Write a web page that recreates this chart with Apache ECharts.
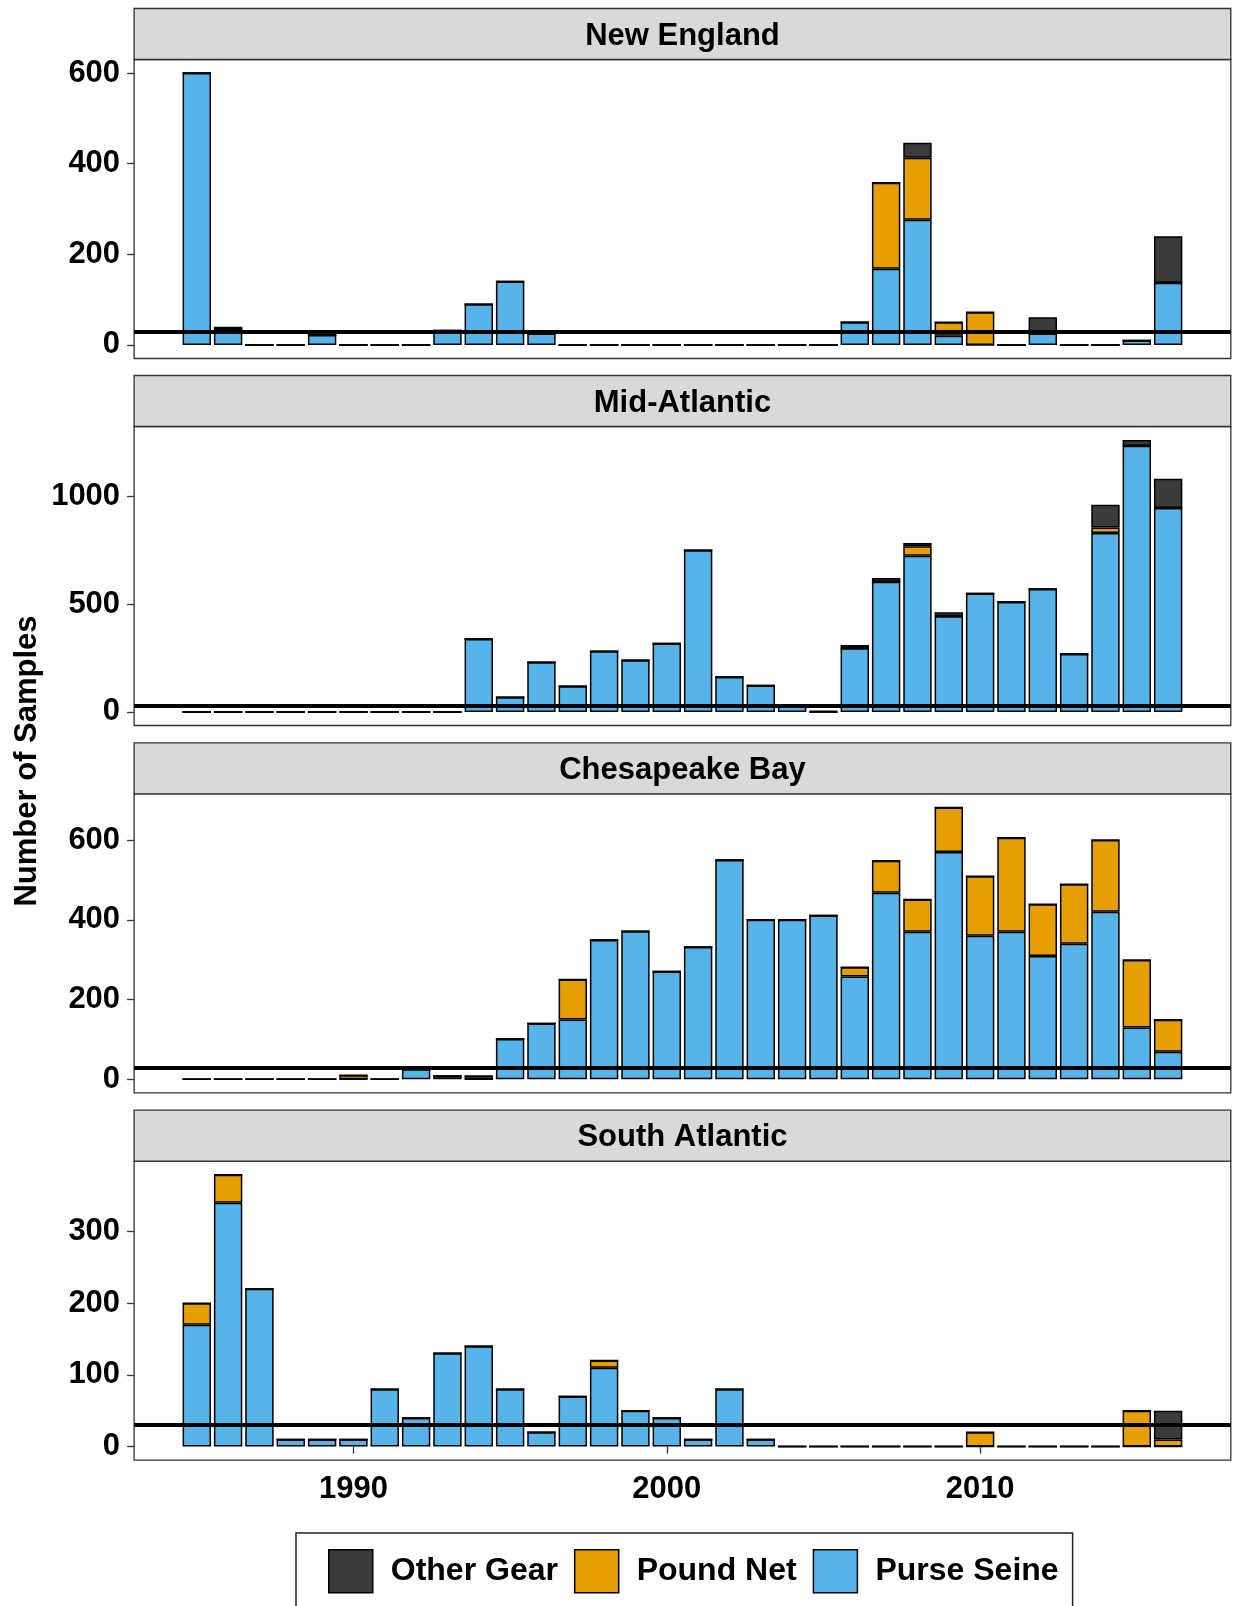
<!DOCTYPE html>
<html><head><meta charset="utf-8">
<script src="https://cdn.jsdelivr.net/npm/echarts@6/dist/echarts.min.js"></script>
<style>html,body{margin:0;padding:0;background:#fff}#c{width:1235px;height:1606px}</style>
</head><body><div id="c"></div><script>
// ---------- data ----------
const years = [1985,1986,1987,1988,1989,1990,1991,1992,1993,1994,1995,1996,1997,1998,1999,2000,
               2001,2002,2003,2004,2005,2006,2007,2008,2009,2010,2011,2012,2013,2014,2015,2016];
// empty padding slots at both ends of the axis (ggplot-style expansion)
const padBefore = [1983,1984];
const padAfter = [2017,2018];
const regionNames = ['New England','Mid-Atlantic','Chesapeake Bay','South Atlantic'];
const gearNames = ['Other Gear','Pound Net','Purse Seine'];

const nePurse = [600,36,0,0,22,0,0,0,32,90,140,25,0,0,0,0,0,0,0,0,0,50,168,276,20,0,0,25,0,0,10,137];
const nePound = [0,0,0,0,0,0,0,0,0,0,0,0,0,0,0,0,0,0,0,0,0,0,190,137,30,72,0,0,0,0,0,0];
const neOther = [0,4,0,0,0,0,0,0,0,0,0,0,0,0,0,0,0,0,0,0,0,0,0,33,0,0,0,36,0,0,0,103];

const maPurse = [0,0,0,0,0,0,0,0,0,338,68,230,119,281,240,317,750,162,122,28,0,295,604,725,444,549,510,570,269,830,1235,946];
const maPound = [0,0,0,0,0,0,0,0,0,0,0,0,0,0,0,0,0,0,0,0,0,0,0,43,0,0,0,0,0,26,0,0];
const maOther = [0,0,0,0,0,0,0,0,0,0,0,0,0,0,0,0,0,0,0,0,5,15,17,16,18,0,0,0,0,105,26,136];

const cbPurse = [0,0,0,0,0,0,0,25,8,0,101,140,150,349,371,270,332,550,400,400,411,258,468,370,570,360,370,309,340,420,130,69];
const cbPound = [0,0,0,0,0,10,0,0,0,8,0,0,100,0,0,0,0,0,0,0,0,23,80,81,112,149,236,130,149,180,169,80];
const cbOther = [0,0,0,0,0,0,0,0,0,0,0,0,0,0,0,0,0,0,0,0,0,0,0,0,0,0,0,0,0,0,0,0];

const saPurse = [170,340,220,10,10,10,80,40,130,140,80,20,70,110,50,40,10,80,10,0,0,0,0,0,0,0,0,0,0,0,0,0];
const saPound = [30,39,0,0,0,0,0,0,0,0,0,0,0,10,0,0,0,0,0,0,0,0,0,0,0,20,0,0,0,0,50,10];
const saOther = [0,0,0,0,0,0,0,0,0,0,0,0,0,0,0,0,0,0,0,0,0,0,0,0,0,0,0,0,0,0,0,40];

const neTicks = [0,200,400,600];
const maTicks = [0,500,1000];
const cbTicks = [0,200,400,600];
const saTicks = [0,100,200,300];
const xTicks = [1990,2000,2010];
const threshold = 30;

// ---------- layout / style ----------
const FONT = '"Liberation Sans", Arial, Helvetica, sans-serif';
const colors = {'Purse Seine':'#56B4E9','Pound Net':'#E69F00','Other Gear':'#3b3b3b'};
const L = 134.1, R = 1230.8;
const plotTops = [59.5, 426.5, 793.8, 1161.2];
const plotH = 299, stripH = 51;
const axisYears = padBefore.concat(years, padAfter).map(String);

const panels = [
  {purse: nePurse, pound: nePound, other: neOther, ticks: neTicks},
  {purse: maPurse, pound: maPound, other: maOther, ticks: maTicks},
  {purse: cbPurse, pound: cbPound, other: cbOther, ticks: cbTicks},
  {purse: saPurse, pound: saPound, other: saOther, ticks: saTicks}
];
const pad = arr => padBefore.map(() => '-').concat(arr, padAfter.map(() => '-'));
const isXTick = (idx, val) => xTicks.indexOf(Number(val)) >= 0;

const grid = [], xAxis = [], yAxis = [], series = [], graphic = [];
panels.forEach((p, i) => {
  const top = plotTops[i];
  const totals = years.map((y, k) => p.purse[k] + p.pound[k] + p.other[k]);
  const M = Math.max(...totals);
  grid.push({left: L, width: R - L, top: top, height: plotH, show: true,
             backgroundColor: '#fff', borderColor: '#333', borderWidth: 1.3});
  const isBottom = i === panels.length - 1;
  xAxis.push({type: 'category', gridIndex: i, data: axisYears, boundaryGap: false,
    splitLine: {show: false}, axisLine: {show: false},
    axisTick: {show: isBottom, length: 7, interval: isXTick, lineStyle: {color: '#333', width: 1.3}},
    axisLabel: {show: isBottom, interval: isXTick, margin: 14, fontSize: 31, fontWeight: 'bold',
                color: '#000', fontFamily: FONT}});
  yAxis.push({type: 'value', gridIndex: i, min: -0.05 * M, max: 1.05 * M,
    splitLine: {show: false}, axisLine: {show: false},
    axisTick: {show: true, length: 7, customValues: p.ticks, lineStyle: {color: '#333', width: 1.3}},
    axisLabel: {customValues: p.ticks, margin: 14, fontSize: 31, fontWeight: 'bold',
                color: '#000', fontFamily: FONT, formatter: v => String(v)}});
  const stackOrder = [['Purse Seine', p.purse], ['Pound Net', p.pound], ['Other Gear', p.other]];
  stackOrder.forEach(([name, arr], j) => {
    const s = {type: 'bar', name: name, xAxisIndex: i, yAxisIndex: i, stack: 'p' + i,
      barWidth: 28.4, animation: false, silent: true,
      itemStyle: {color: colors[name], borderColor: '#000', borderWidth: 1.5},
      data: pad(arr)};
    if (j === stackOrder.length - 1) {
      s.markLine = {silent: true, symbol: 'none', animation: false, label: {show: false},
        lineStyle: {color: '#000', width: 3.8, type: 'solid'},
        data: [{yAxis: threshold}]};
    }
    series.push(s);
  });
  graphic.push({type: 'rect', z: 10, shape: {x: L, y: top - stripH, width: R - L, height: stripH},
    style: {fill: '#d9d9d9', stroke: '#333', lineWidth: 1.3}});
  graphic.push({type: 'text', z: 11, x: (L + R) / 2, y: top - stripH / 2 + 2,
    style: {text: regionNames[i], fontSize: 31, fontWeight: 'bold', fontFamily: FONT,
            fill: '#000', align: 'center', verticalAlign: 'middle'}});
});
graphic.push({type: 'text', x: 27, y: 761, rotation: Math.PI / 2,
  style: {text: 'Number of Samples', fontSize: 31, fontWeight: 'bold', fontFamily: FONT,
          fill: '#000', align: 'center', verticalAlign: 'middle'}});

const chart = echarts.init(document.getElementById('c'), null, {renderer: 'canvas'});
chart.setOption({
  animation: false,
  backgroundColor: '#fff',
  grid, xAxis, yAxis, series, graphic,
  legend: {data: gearNames, left: 296, top: 1533, orient: 'horizontal', icon: 'rect',
    itemWidth: 44, itemHeight: 43, itemGap: 16, padding: [16, 14, 24, 32],
    borderColor: '#222', borderWidth: 1.5, selectedMode: false,
    itemStyle: {borderColor: '#000', borderWidth: 1.5},
    textStyle: {fontSize: 32, fontWeight: 'bold', color: '#000', fontFamily: FONT, padding: [0, 0, 0, 13]}}
});
</script></body></html>
